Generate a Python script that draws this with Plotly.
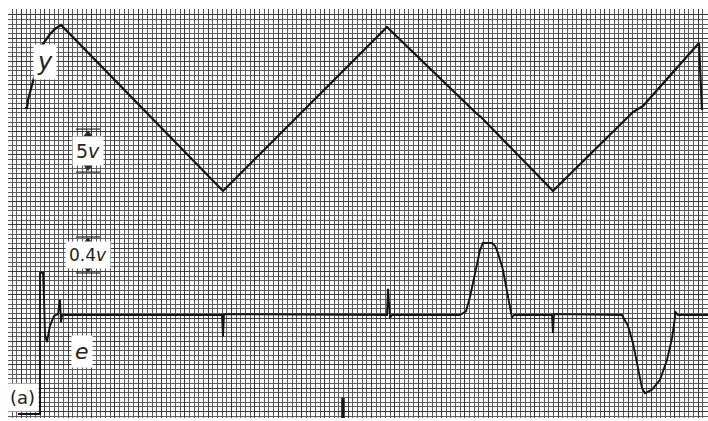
import plotly.graph_objects as go

# ---- chart-paper geometry (pixels) ----
W, H = 708, 421
ML, MR, MT, MB = 8, 0, 9, 3
PX_PER_MM = 700 / 150.0          # 1 mm grid division on the recorder paper
Y_ZERO_PX, Y_PX_PER_V = 108, 8.6  # channel y: zero line and gain
E_ZERO_PX, E_PX_PER_V = 315, 90   # channel e: zero line and gain

# ---- channel y : triangle wave (t in mm of paper, value in volts) ----
y_t = [3.64, 4.07, 4.29, 5.36, 6.00, 6.64, 7.29, 8.14, 9.00, 10.07, 11.14, 11.36,
       46.07, 81.21, 100.28, 101.35, 116.78, 133.92, 136.06, 148.06, 148.71]
y_v = [0.00, 0.00, 0.93, 3.02, 4.42, 6.16, 7.33, 7.91, 8.60, 9.19, 9.65, 9.65,
       -9.65, 9.42, -0.58, -1.05, -9.65, -0.47, 0.23, 7.56, -0.23]

# ---- channel e : error signal ----
e_t = [2.14, 6.86, 6.86, 7.50, 7.71, 7.93, 8.36, 8.99, 9.86, 10.71, 11.14, 11.36, 11.57,
       45.85, 46.07, 46.28, 81.21, 81.43, 81.86, 82.28,
       96.85, 98.14, 99.00, 99.64, 100.49, 101.14, 101.78, 103.71, 104.35, 104.99,
       106.07, 107.14, 107.78, 108.00, 108.43,
       116.56, 116.78, 116.99,
       131.56, 132.85, 133.92, 134.99, 135.85, 136.49, 137.99, 139.71, 141.21, 142.28,
       142.92, 142.92, 143.57, 150.0]
e_v = [-1.10, -1.10, 0.47, 0.47, 0.20, -0.22, -0.30, -0.12, -0.01, 0.01, 0.17, -0.08, 0.00,
       0.00, -0.24, 0.01, 0.00, 0.29, -0.03, 0.00,
       0.00, 0.04, 0.20, 0.36, 0.56, 0.72, 0.80, 0.80, 0.77, 0.69,
       0.50, 0.22, 0.03, -0.03, 0.00,
       0.00, -0.20, 0.01,
       0.00, -0.12, -0.31, -0.58, -0.81, -0.87, -0.83, -0.72, -0.50, -0.26,
       -0.03, 0.04, 0.00, 0.00]

# event mark at the lower edge
mark_t = [71.78, 71.78]
mark_v = [-0.92, -1.20]

# scale bars
scale_t = [14.57, 19.71]
y_scale_top, y_scale_span = -2.45, 5.0
e_scale_top, e_scale_span = 0.867, 0.4


def v_range(zero_px, px_per_v):
    top = (zero_px - MT) / px_per_v
    bottom = (zero_px - (H - MB)) / px_per_v
    return [bottom, top]


ink = "#141414"
fig = go.Figure()

fig.add_trace(go.Scatter(x=y_t, y=y_v, yaxis="y", mode="lines",
                         line=dict(color=ink, width=2.2), hoverinfo="skip"))
fig.add_trace(go.Scatter(x=e_t, y=e_v, yaxis="y2", mode="lines",
                         line=dict(color=ink, width=1.9), hoverinfo="skip"))
fig.add_trace(go.Scatter(x=mark_t, y=mark_v, yaxis="y2", mode="lines",
                         line=dict(color=ink, width=3.5), hoverinfo="skip"))

# scale bar lines and arrow heads
for top, span, ax in [(y_scale_top, y_scale_span, "y"), (e_scale_top, e_scale_span, "y2")]:
    bot = top - span
    for lvl in (top, bot):
        fig.add_trace(go.Scatter(x=scale_t, y=[lvl, lvl], yaxis=ax, mode="lines",
                                 line=dict(color="#2a2a2a", width=1.2), hoverinfo="skip"))
    mid_t = sum(scale_t) / 2
    fig.add_trace(go.Scatter(x=[mid_t, mid_t], y=[top - span * 0.12, bot + span * 0.12],
                             yaxis=ax, mode="markers",
                             marker=dict(symbol=["triangle-up", "triangle-down"], size=8,
                                         color="#2a2a2a"),
                             hoverinfo="skip"))

label_font = dict(family="DejaVu Sans", color="#222222")
labels = [
    ("<i>y</i>", 7.93, 5.40, "y", 24),
    ("5<i>v</i>", 17.14, -4.95, "y", 19),
    ("0.4<i>v</i>", 17.14, 0.667, "y2", 17),
    ("<i>e</i>", 15.86, -0.41, "y2", 22),
    ("(a)", 3.21, -0.92, "y2", 18),
]
for txt, tx, ty, ax, sz in labels:
    fig.add_annotation(x=tx, y=ty, xref="x", yref=ax, text=txt, showarrow=False,
                       font=dict(size=sz, **label_font), bgcolor="#ffffff", borderpad=3)

grid_common = dict(showticklabels=False, ticks="", zeroline=False, showline=False,
                   showgrid=True, gridcolor="#383838", gridwidth=1)
minor_grid = dict(showgrid=True, gridcolor="#5c5c5c", gridwidth=1)

# paper grid in volts of channel y: one division = PX_PER_MM pixels
div_v = PX_PER_MM / Y_PX_PER_V

fig.update_layout(
    width=W, height=H,
    margin=dict(l=ML, r=MR, t=MT, b=MB),
    paper_bgcolor="#ffffff",
    plot_bgcolor="#fafafa",
    showlegend=False,
    xaxis=dict(range=[0, 150], dtick=5, tick0=2.86,
               minor=dict(dtick=1, tick0=0.86, **minor_grid), **grid_common),
    yaxis=dict(range=v_range(Y_ZERO_PX, Y_PX_PER_V), dtick=5 * div_v, tick0=0,
               minor=dict(dtick=div_v, tick0=0, **minor_grid), **grid_common),
    yaxis2=dict(range=v_range(E_ZERO_PX, E_PX_PER_V), overlaying="y", visible=False),
)

fig.write_html("out.html")
